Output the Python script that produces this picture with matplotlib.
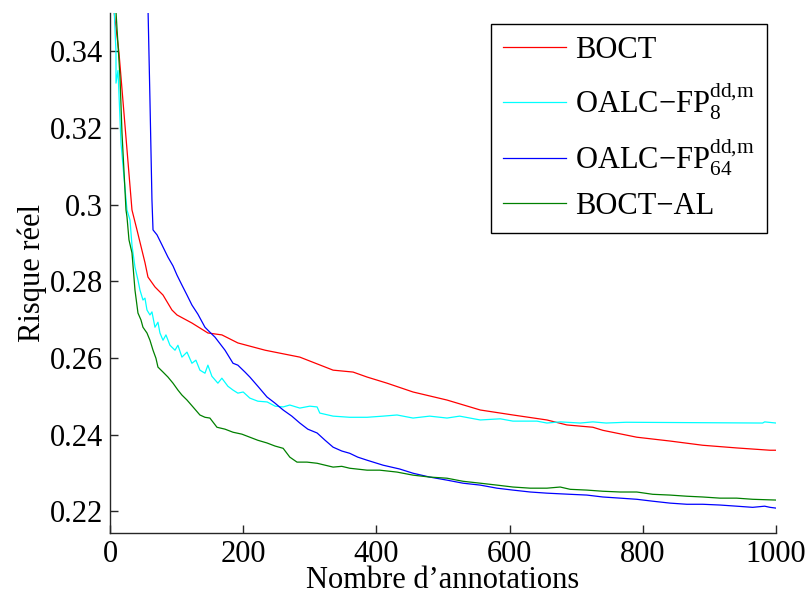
import matplotlib

matplotlib.use("Agg")
import matplotlib.pyplot as plt
from matplotlib.ticker import FixedLocator, FuncFormatter

# BOCT (red)
boct_x = [5, 13.5, 33, 40.5, 52.6, 57, 67.6, 79.6, 93, 100.6, 123, 147, 168, 192, 233,
          285, 335, 365, 386, 416, 455, 506, 556, 605, 656, 686, 725, 740, 791, 841,
          890, 941, 991, 1000]
boct_y = [0.352, 0.3396, 0.2986, 0.2934, 0.2848, 0.2811, 0.2785, 0.2764, 0.2725, 0.2712,
          0.2691, 0.2665, 0.2660, 0.2639, 0.2620, 0.2602, 0.2568, 0.2563, 0.2550, 0.2534,
          0.2511, 0.2490, 0.2464, 0.2451, 0.2438, 0.2425, 0.2419, 0.2411, 0.2393, 0.2383,
          0.2372, 0.2365, 0.2359, 0.2359]

# OALC-FP 8 (cyan)
fp8_x = [6, 9, 9, 12, 16.5, 21, 25.5, 30, 33, 37.5, 42, 45, 49.5, 52.5, 55.5, 60, 63,
         67.5, 72, 75, 79.6, 84, 90, 97.6, 102, 108, 115.6, 123, 129, 135, 142.6, 147,
         153, 162, 168, 177, 184.7, 192, 200, 210, 222, 236, 248, 260, 270, 285, 300,
         311, 315, 335, 360, 386, 410, 431, 455, 480, 506, 525, 556, 586, 605, 641, 656,
         676, 706, 725, 745, 775, 980, 983, 1000]
fp8_y = [0.352, 0.3396, 0.3317, 0.335, 0.3161, 0.3072, 0.2986, 0.2960, 0.2894, 0.2837,
         0.2803, 0.2777, 0.2751, 0.2756, 0.2725, 0.2712, 0.2720, 0.2680, 0.2693, 0.2665,
         0.2646, 0.2660, 0.2633, 0.2620, 0.2633, 0.2602, 0.2615, 0.2586, 0.2594, 0.2568,
         0.2560, 0.2581, 0.2552, 0.2534, 0.2547, 0.2526, 0.2516, 0.2508, 0.2511, 0.2495,
         0.2487, 0.2485, 0.2474, 0.2472, 0.2477, 0.2469, 0.2474, 0.2472, 0.2456, 0.2448,
         0.2445, 0.2445, 0.2448, 0.2451, 0.2443, 0.2448, 0.2443, 0.2448, 0.2438, 0.2441,
         0.2435, 0.2435, 0.2430, 0.2433, 0.2430, 0.2433, 0.2430, 0.2432, 0.2430, 0.2433,
         0.2430]

# OALC-FP 64 (blue)
fp64_x = [56, 60, 63, 64.6, 70.6, 78, 87, 94.6, 100.6, 108, 115.6, 123, 132, 142.6, 150,
          157.7, 172.7, 184.7, 192, 202.7, 210, 222, 235.7, 247.7, 260, 273, 285, 297,
          311, 323, 335, 348, 360, 372, 386, 410, 435, 455, 480, 506, 530, 556, 581, 605,
          631, 656, 691, 716, 740, 766, 791, 815, 841, 866, 890, 916, 941, 965, 983, 991,
          1000]
fp64_y = [0.360, 0.3273, 0.3012, 0.2934, 0.2921, 0.2895, 0.2863, 0.2840, 0.2816, 0.2790,
          0.2764, 0.2738, 0.2714, 0.2680, 0.2667, 0.2654, 0.2620, 0.2586, 0.2581, 0.2563,
          0.2550, 0.2526, 0.2498, 0.2482, 0.2464, 0.2448, 0.2430, 0.2414, 0.2404, 0.2385,
          0.2367, 0.2357, 0.2351, 0.2341, 0.2333, 0.2320, 0.2310, 0.2299, 0.2289, 0.2281,
          0.2273, 0.2268, 0.2260, 0.2255, 0.2250, 0.2247, 0.2244, 0.2242, 0.2237, 0.2234,
          0.2231, 0.2226, 0.2221, 0.2218, 0.2218, 0.2216, 0.2213, 0.2210, 0.2213, 0.2210,
          0.2208]

# BOCT-AL (green)
al_x = [7, 15, 18, 22.5, 24, 25.5, 28.5, 33, 37.5, 42, 46.5, 49.5, 55.5, 60, 64.6, 69,
        72, 79.6, 87, 94.6, 102, 108, 115.6, 124.6, 135, 142.6, 150, 160.6, 172.7, 184.7,
        198, 210, 222, 235.7, 247.7, 260, 270, 280.8, 295.8, 311, 323, 335, 348, 360,
        386, 405, 431, 455, 480, 506, 530, 556, 581, 605, 631, 656, 676, 691, 716, 740,
        766, 791, 815, 841, 866, 890, 916, 941, 965, 1000]
al_y = [0.356, 0.3333, 0.3187, 0.3038, 0.2986, 0.2968, 0.2908, 0.2874, 0.2777, 0.2717,
        0.2699, 0.2680, 0.2665, 0.2646, 0.2620, 0.2599, 0.2576, 0.2563, 0.2550, 0.2534,
        0.2516, 0.2503, 0.2490, 0.2472, 0.2451, 0.2445, 0.2443, 0.2419, 0.2414, 0.2406,
        0.2401, 0.2393, 0.2385, 0.2378, 0.2370, 0.2364, 0.2341, 0.2328, 0.2328, 0.2325,
        0.2320, 0.2315, 0.2317, 0.2312, 0.2307, 0.2307, 0.2302, 0.2294, 0.2289, 0.2286,
        0.2278, 0.2273, 0.2268, 0.2263, 0.2260, 0.2260, 0.2263, 0.2257, 0.2255, 0.2252,
        0.2250, 0.2250, 0.2244, 0.2242, 0.2239, 0.2237, 0.2234, 0.2234, 0.2231, 0.2229]

x_ticks = [0, 200, 400, 600, 800, 1000]
y_ticks = [0.22, 0.24, 0.26, 0.28, 0.30, 0.32, 0.34]

plt.rcParams["font.family"] = ["Liberation Serif", "DejaVu Serif"]
plt.rcParams["mathtext.fontset"] = "custom"
plt.rcParams["mathtext.rm"] = "Liberation Serif"
plt.rcParams["mathtext.it"] = "Liberation Serif:italic"
plt.rcParams["mathtext.bf"] = "Liberation Serif:bold"

fig = plt.figure(figsize=(8.1, 6.02), dpi=100)
ax = fig.add_axes([0.1358, 0.1146, 0.8222, 0.8638])

ax.plot(boct_x, boct_y, color="#ff0000", lw=0.9, label="BOCT")
ax.plot(fp8_x, fp8_y, color="#00ffff", lw=0.9,
        label="OALC\u2212FP$_{\\mathrm{8}}^{\\mathrm{dd{,}m}}$")
ax.plot(fp64_x, fp64_y, color="#0000ff", lw=0.9,
        label="OALC\u2212FP$_{\\mathrm{64}}^{\\mathrm{dd{,}m}}$")
ax.plot(al_x, al_y, color="#008000", lw=0.9, label="BOCT\u2212AL")

ax.set_xlim(0, 1000)
ax.set_ylim(0.2143, 0.35)
ax.xaxis.set_major_locator(FixedLocator(x_ticks))
ax.yaxis.set_major_locator(FixedLocator(y_ticks))
ax.yaxis.set_major_formatter(FuncFormatter(lambda v, p: f"{v:g}"))

ax.spines["top"].set_visible(False)
ax.spines["right"].set_visible(False)
for s in ["left", "bottom"]:
    ax.spines[s].set_linewidth(1.0)
    ax.spines[s].set_color("#262626")
ax.tick_params(direction="in", length=6, width=1.0, colors="#262626",
               labelcolor="black", labelsize=22, pad=5)

ax.set_xlabel("Nombre d\u2019annotations", fontsize=22, labelpad=-2)
ax.set_ylabel("Risque réel", fontsize=22, labelpad=2)

leg = ax.legend(loc="upper right", bbox_to_anchor=(0.9865, 0.979), borderaxespad=0,
                fontsize=22, frameon=True, fancybox=False, framealpha=1,
                handlelength=2.06, handletextpad=0.3, labelspacing=0.45,
                borderpad=0.4)
leg.get_frame().set_edgecolor("black")
leg.get_frame().set_linewidth(1.0)

fig.savefig("out.png", dpi=100)
